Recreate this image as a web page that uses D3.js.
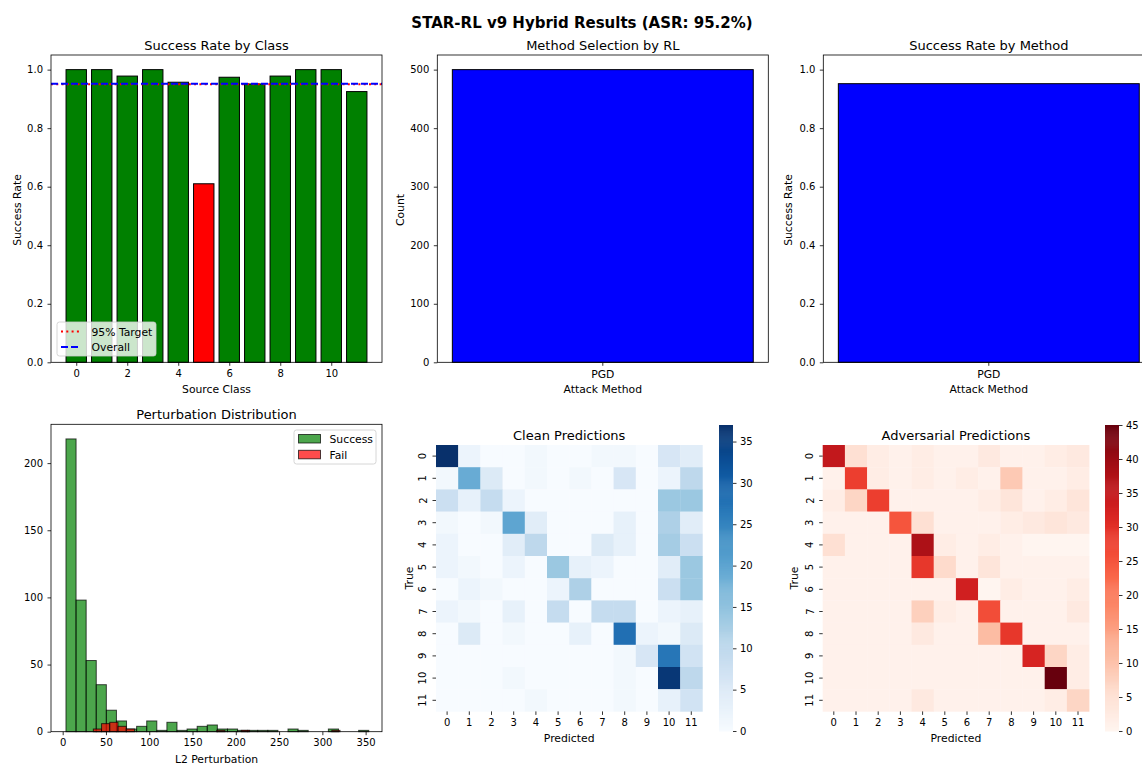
<!DOCTYPE html>
<html><head><meta charset="utf-8">
<script src="https://cdn.jsdelivr.net/npm/d3@7"></script>
<style>
body{margin:0;background:#fff;}
svg{display:block;font-family:"DejaVu Sans",sans-serif;}
</style></head>
<body><svg id="c" width="1142" height="765"></svg>
<script>
// ---------- data ----------
const classes = [0,1,2,3,4,5,6,7,8,9,10,11];
const classSuccess = [1.0,1.0,0.978,1.0,0.957,0.610,0.974,0.951,0.978,1.0,1.0,0.925];
const classColors = ["green","green","green","green","green","red","green","green","green","green","green","green"];
const targetRate = 0.95;
const overallRate = 0.952;
const methods = ["PGD"];
const methodCounts = [500];
const methodSuccess = [0.952];
const successBinStart = 3.8, successBinWidth = 11.66;
const successCounts = [218,98,53,35,16,8,2,4,8,1,7,1,2,4,5,2,2,1,1,1,1,0,2,1,0,0,2,0,0,1];
const failBinStart = 35.4, failBinWidth = 9.5;
const failCounts = [2,6,7,4,2,0,0,0,0,0,0,0,0,0,0,1,0,0,1,0,0,0,0,0,0,0,0,0,0,1];
const cleanMatrix = [
[37,2,0,0,1,0,0,1,1,0,6,4],
[1,19,5,0,1,0,1,0,6,0,2,10],
[8,3,9,2,0,0,0,0,0,0,14,14],
[1,0,1,20,4,0,0,0,3,0,12,4],
[2,0,0,4,10,0,0,5,3,0,13,8],
[2,1,0,2,0,14,3,2,0,0,4,14],
[0,2,1,0,0,2,12,0,0,0,8,14],
[2,1,0,3,0,9,0,9,9,0,2,3],
[0,5,0,1,0,0,3,0,28,2,1,5],
[0,0,0,0,0,0,0,0,1,6,27,7],
[0,0,0,1,0,0,0,0,1,0,36,10],
[0,0,0,0,1,0,0,0,1,0,3,7]];
const advMatrix = [
[35,5,2,1,2,1,1,3,1,1,2,3],
[1,28,2,1,2,1,2,1,9,1,1,2],
[2,7,28,1,1,1,1,2,4,1,2,4],
[1,1,1,25,5,1,1,1,2,3,4,3],
[5,1,1,1,38,2,1,2,1,0,0,0],
[1,1,1,1,29,6,1,4,1,1,1,1],
[1,1,1,1,1,1,33,0,2,1,1,2],
[1,1,1,1,8,2,1,26,1,1,1,3],
[1,1,1,1,3,1,1,11,29,1,1,1],
[1,1,1,1,1,1,1,1,1,32,7,2],
[1,1,1,1,1,1,1,1,1,1,45,2],
[1,1,1,1,3,1,1,1,1,1,2,7]];
const cleanMax = 37, advMax = 45;

// ---------- helpers ----------
const svg = d3.select("#c");
const FS = 10, LS = 10.8, TS = 13;
function styleAxis(g){
  g.select(".domain").remove();
  g.selectAll(".tick line").attr("stroke","#000").attr("stroke-width",0.8);
  g.selectAll(".tick text").attr("font-family","DejaVu Sans").attr("font-size",FS).attr("fill","#000");
  return g;
}
function frame(x0,x1,y0,y1){
  svg.append("rect").attr("x",x0).attr("y",y0).attr("width",x1-x0).attr("height",y1-y0)
    .attr("fill","none").attr("stroke","#000").attr("stroke-width",0.8);
}
function text(x,y,t,opt={}){
  const el = svg.append("text").attr("x",x).attr("y",y).text(t)
    .attr("font-size",opt.size||LS).attr("text-anchor",opt.anchor||"middle")
    .attr("fill","#000");
  if(opt.bold) el.attr("font-weight","bold");
  if(opt.rot) el.attr("transform",`rotate(-90,${x},${y})`);
  return el;
}

// ---------- suptitle ----------
text(582,27.5,"STAR-RL v9 Hybrid Results (ASR: 95.2%)",{size:15,bold:true});

// ---------- Panel 1: success by class ----------
{
  const L=51,R=382,T=55,B=362.3;
  const x = d3.scaleLinear().domain([-0.99,11.99]).range([L,R]);
  const y = d3.scaleLinear().domain([0,1.05]).range([B,T]);
  svg.append("g").selectAll("rect").data(classes).join("rect")
    .attr("x",d=>x(d-0.4)).attr("width",d=>x(d+0.4)-x(d-0.4))
    .attr("y",d=>y(classSuccess[d])).attr("height",d=>B-y(classSuccess[d]))
    .attr("fill",d=>classColors[d]).attr("stroke","#000").attr("stroke-width",1);
  svg.append("line").attr("x1",L).attr("x2",R).attr("y1",y(targetRate)).attr("y2",y(targetRate))
    .attr("stroke","red").attr("stroke-width",2).attr("stroke-dasharray","2,3.3");
  svg.append("line").attr("x1",L).attr("x2",R).attr("y1",y(overallRate)).attr("y2",y(overallRate))
    .attr("stroke","blue").attr("stroke-width",2).attr("stroke-dasharray","7,3");
  styleAxis(svg.append("g").attr("transform",`translate(${L},0)`)
    .call(d3.axisLeft(y).tickValues([0,0.2,0.4,0.6,0.8,1.0]).tickFormat(d3.format(".1f")).tickSize(3.5).tickPadding(4.5)));
  styleAxis(svg.append("g").attr("transform",`translate(0,${B})`)
    .call(d3.axisBottom(x).tickValues([0,2,4,6,8,10]).tickSize(3.5).tickPadding(4.2)));
  frame(L,R,T,B);
  text((L+R)/2,49.5,"Success Rate by Class",{size:TS});
  text((L+R)/2,393,"Source Class");
  text(20.5,210,"Success Rate",{rot:true});
  // legend
  svg.append("rect").attr("x",57).attr("y",322).attr("width",99).attr("height",34).attr("rx",2.5)
    .attr("fill","#fff").attr("fill-opacity",0.8).attr("stroke","#ccc").attr("stroke-width",0.8);
  svg.append("line").attr("x1",61).attr("x2",81).attr("y1",331.5).attr("y2",331.5)
    .attr("stroke","red").attr("stroke-width",2).attr("stroke-dasharray","2,3.3");
  svg.append("line").attr("x1",61).attr("x2",81).attr("y1",347).attr("y2",347)
    .attr("stroke","blue").attr("stroke-width",2).attr("stroke-dasharray","7,3");
  text(91.5,335.5,"95% Target",{anchor:"start"});
  text(91.5,351,"Overall",{anchor:"start"});
}

// ---------- Panel 2 & 3: methods ----------
function methodPanel(L,R,values,ymax,ticks,fmt,title,ylab,ylabX){
  const T=55,B=362.3;
  const x = d3.scaleBand().domain(methods).range([L,R]).paddingInner(0).paddingOuter(0);
  const xl = d3.scaleLinear().domain([-0.44,0.44]).range([L,R]);
  const y = d3.scaleLinear().domain([0,ymax]).range([B,T]);
  svg.append("g").selectAll("rect").data(methods).join("rect")
    .attr("x",(d,i)=>xl(i-0.4)).attr("width",(d,i)=>xl(i+0.4)-xl(i-0.4))
    .attr("y",(d,i)=>y(values[i])).attr("height",(d,i)=>B-y(values[i]))
    .attr("fill","blue").attr("stroke","#000").attr("stroke-width",1);
  styleAxis(svg.append("g").attr("transform",`translate(${L},0)`)
    .call(d3.axisLeft(y).tickValues(ticks).tickFormat(fmt).tickSize(3.5).tickPadding(4.5)));
  const gx = styleAxis(svg.append("g").attr("transform",`translate(0,${B})`)
    .call(d3.axisBottom(x).tickSize(3.5).tickPadding(4.2)));
  gx.selectAll(".tick text").attr("font-size",LS);
  frame(L,R,T,B);
  text((L+R)/2,49.5,title,{size:TS});
  text((L+R)/2,393,"Attack Method");
  text(ylabX,210,ylab,{rot:true});
}
methodPanel(437.3,768.3,methodCounts,525,[0,100,200,300,400,500],d3.format("d"),"Method Selection by RL","Count",404);
methodPanel(823.3,1154.3,methodSuccess,1.05,[0,0.2,0.4,0.6,0.8,1.0],d3.format(".1f"),"Success Rate by Method","Success Rate",792);

// ---------- Panel 4: histogram ----------
{
  const L=51,R=382,T=424.3,B=731.7;
  const x = d3.scaleLinear().domain([-13.5,368.9]).range([L,R]);
  const y = d3.scaleLinear().domain([0,228.9]).range([B,T]);
  const drawHist = (counts,start,w,col)=>{
    svg.append("g").selectAll("rect").data(counts.map((c,i)=>({c,i})).filter(d=>d.c>0)).join("rect")
      .attr("x",d=>x(start+d.i*w)).attr("width",d=>x(start+(d.i+1)*w)-x(start+d.i*w))
      .attr("y",d=>y(d.c)).attr("height",d=>B-y(d.c))
      .attr("fill",col).attr("fill-opacity",0.7)
      .attr("stroke","#000").attr("stroke-opacity",0.7).attr("stroke-width",1);
  };
  drawHist(successCounts,successBinStart,successBinWidth,"green");
  drawHist(failCounts,failBinStart,failBinWidth,"red");
  styleAxis(svg.append("g").attr("transform",`translate(${L},0)`)
    .call(d3.axisLeft(y).tickValues([0,50,100,150,200]).tickSize(3.5).tickPadding(4.5)));
  styleAxis(svg.append("g").attr("transform",`translate(0,${B})`)
    .call(d3.axisBottom(x).tickValues([0,50,100,150,200,250,300,350]).tickSize(3.5).tickPadding(4.2)));
  frame(L,R,T,B);
  text((L+R)/2,418.5,"Perturbation Distribution",{size:TS});
  text((L+R)/2,763,"L2 Perturbation");
  svg.append("rect").attr("x",294).attr("y",430).attr("width",82).attr("height",34).attr("rx",2.5)
    .attr("fill","#fff").attr("fill-opacity",0.8).attr("stroke","#ccc").attr("stroke-width",0.8);
  svg.append("rect").attr("x",298.5).attr("y",434.5).attr("width",22).attr("height",8.5)
    .attr("fill","green").attr("fill-opacity",0.7).attr("stroke","#000").attr("stroke-opacity",0.7);
  svg.append("rect").attr("x",298.5).attr("y",450.3).attr("width",22).attr("height",8.5)
    .attr("fill","red").attr("fill-opacity",0.7).attr("stroke","#000").attr("stroke-opacity",0.7);
  text(329.5,443,"Success",{anchor:"start"});
  text(329.5,459,"Fail",{anchor:"start"});
}

// ---------- Heatmaps ----------
function heatmap(L,matrix,vmax,interp,title,cbX,ylabX,ytickX){
  const T=445, S=266.4;
  const x = d3.scaleBand().domain(classes).range([L,L+S]);
  const y = d3.scaleBand().domain(classes).range([T,T+S]);
  const col = d3.scaleSequential(interp).domain([0,vmax]);
  const cells = [];
  matrix.forEach((row,r)=>row.forEach((v,c)=>cells.push({r,c,v})));
  svg.append("g").selectAll("rect").data(cells).join("rect")
    .attr("x",d=>x(d.c)).attr("y",d=>y(d.r)).attr("width",x.bandwidth()+0.3).attr("height",y.bandwidth()+0.3)
    .attr("fill",d=>col(d.v));
  styleAxis(svg.append("g").attr("transform",`translate(0,${T+S})`)
    .call(d3.axisBottom(x).tickSize(3.5).tickPadding(4.2)));
  styleAxis(svg.append("g").attr("transform",`translate(${L},0)`)
    .call(d3.axisLeft(y).tickSize(3.5).tickFormat("")));
  classes.forEach(k=>{
    text(ytickX, y(k)+y.bandwidth()/2, String(k), {rot:true, size:FS});
  });
  text(L+S/2,439.5,title,{size:TS});
  text(L+S/2,741.5,"Predicted");
  text(ylabX,578,"True",{rot:true});
  // colorbar
  const cT=425,cB=731,cW=14;
  const cy = d3.scaleLinear().domain([0,vmax]).range([cB,cT]);
  const steps = d3.range(0,300);
  svg.append("g").selectAll("rect").data(steps).join("rect")
    .attr("x",cbX).attr("width",cW)
    .attr("y",i=>cy(vmax*(i+1)/300)).attr("height",i=>cy(vmax*i/300)-cy(vmax*(i+1)/300)+0.5)
    .attr("fill",i=>col(vmax*(i+0.5)/300));
  styleAxis(svg.append("g").attr("transform",`translate(${cbX+cW},0)`)
    .call(d3.axisRight(cy).tickValues(d3.range(0,vmax+0.1,5)).tickSize(3.5).tickPadding(3.5)));
}
heatmap(436,cleanMatrix,cleanMax,d3.interpolateBlues,"Clean Predictions",719,413,426.5);
heatmap(822.7,advMatrix,advMax,d3.interpolateReds,"Adversarial Predictions",1105,798,813.5);
</script></body></html>
